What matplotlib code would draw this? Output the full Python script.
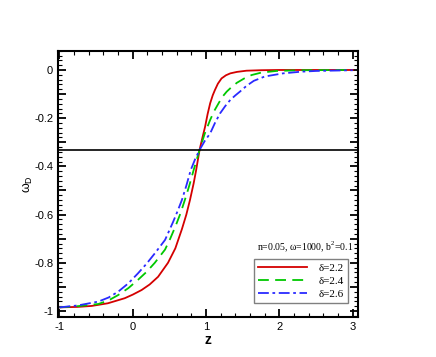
import matplotlib
matplotlib.use('Agg')
import matplotlib.pyplot as plt
from matplotlib.ticker import MultipleLocator, FuncFormatter

# values
z_22 = [-1.0, -0.75, -0.56, -0.34, -0.11, 0.0, 0.12, 0.23, 0.345, 0.48, 0.58, 0.67, 0.73, 0.78,
        0.83, 0.864, 0.91, 0.95, 0.986, 1.02, 1.055, 1.09, 1.12, 1.16, 1.21, 1.27, 1.33, 1.42,
        1.55, 1.75, 2.0, 3.0]
w_22 = [-0.985, -0.983, -0.979, -0.968, -0.947, -0.932, -0.913, -0.89, -0.858, -0.80, -0.74,
        -0.66, -0.60, -0.539, -0.47, -0.415, -0.332, -0.28, -0.235, -0.183, -0.138, -0.105,
        -0.083, -0.057, -0.035, -0.022, -0.014, -0.008, -0.003, -0.001, 0.0, 0.0]

z_24 = [-1.0, -0.75, -0.47, -0.33, -0.20, -0.06, 0.07, 0.19, 0.30, 0.44, 0.51, 0.58, 0.65,
        0.71, 0.77, 0.83, 0.91, 0.98, 1.055, 1.11, 1.17, 1.22, 1.28, 1.35, 1.42, 1.52, 1.62,
        1.75, 1.96, 2.3, 3.0]
w_24 = [-0.985, -0.98, -0.971, -0.956, -0.934, -0.905, -0.871, -0.837, -0.80, -0.745, -0.70,
        -0.65, -0.595, -0.539, -0.48, -0.415, -0.332, -0.265, -0.207, -0.17, -0.138, -0.112,
        -0.09, -0.07, -0.053, -0.035, -0.021, -0.011, -0.004, -0.001, 0.0]

z_26 = [-1.0, -0.75, -0.47, -0.33, -0.20, -0.06, 0.07, 0.19, 0.30, 0.44, 0.55, 0.61, 0.67,
        0.73, 0.79, 0.85, 0.91, 0.98, 1.055, 1.12, 1.19, 1.26, 1.33, 1.40, 1.46, 1.55, 1.65,
        1.8, 2.05, 2.3, 2.5, 3.0]
w_26 = [-0.985, -0.977, -0.961, -0.944, -0.92, -0.885, -0.844, -0.803, -0.761, -0.705, -0.63,
        -0.586, -0.539, -0.48, -0.415, -0.37, -0.332, -0.295, -0.263, -0.22, -0.18, -0.15,
        -0.124, -0.105, -0.09, -0.066, -0.045, -0.027, -0.014, -0.007, -0.004, -0.001]

h_line = -1.0 / 3.0
labels = ['\u03b4=2.2', '\u03b4=2.4', '\u03b4=2.6']
note = 'n=0.05, \u03c9=1000, b$^2$=0.1'

plt.rcParams['font.family'] = ['Liberation Sans', 'DejaVu Sans']
plt.rcParams['mathtext.fontset'] = 'custom'
plt.rcParams['mathtext.rm'] = 'Liberation Serif'

fig = plt.figure(figsize=(4.36, 3.57), dpi=100)
ax = fig.add_axes([0.133, 0.112, 0.688, 0.746])

ax.plot(z_22, w_22, color='#d40000', lw=1.3, label=labels[0])
ax.plot(z_24, w_24, color='#00c800', lw=1.3, ls=(0, (6, 3.5)), label=labels[1])
ax.plot(z_26, w_26, color='#2a2aff', lw=1.3, ls=(0, (6, 2, 1.5, 2)), label=labels[2])
ax.axhline(h_line, color='black', lw=1.2)

ax.set_xlim(-1.02, 3.07)
ax.set_ylim(-1.025, 0.08)

ax.xaxis.set_major_locator(MultipleLocator(1))
ax.xaxis.set_minor_locator(MultipleLocator(0.2))
ax.yaxis.set_major_locator(MultipleLocator(0.1))
ax.yaxis.set_minor_locator(MultipleLocator(0.02))

def yfmt(v, pos):
    k = int(round(v * 10))
    if k % 2 != 0:
        return ''
    if k == 0:
        return '0'
    return '%g' % (k / 10.0)

ax.yaxis.set_major_formatter(FuncFormatter(yfmt))
ax.xaxis.set_major_formatter(FuncFormatter(lambda v, p: '%d' % round(v)))

ax.tick_params(which='both', direction='in', top=True, right=True, labelsize=8)
ax.tick_params(which='major', length=6, width=1.3)
ax.tick_params(which='minor', length=3, width=0.8)
for s in ax.spines.values():
    s.set_linewidth(1.5)

ax.set_xlabel('z', fontsize=10, fontweight='bold', labelpad=1)
ax.set_ylabel('$\\mathregular{\\omega_D}$', fontsize=9, labelpad=-1)

leg = ax.legend(loc='lower right', bbox_to_anchor=(0.985, 0.03), fancybox=False,
                edgecolor='#808080', framealpha=1, handlelength=4.4,
                prop={'family': 'Liberation Serif', 'size': 8},
                borderpad=0.4, labelspacing=0.3, handletextpad=1.0)
leg.get_frame().set_linewidth(1.0)

ax.text(0.985, 0.235, note, transform=ax.transAxes, ha='right', va='bottom',
        fontsize=7, family='Liberation Serif')

fig.savefig('out.png', dpi=100)
